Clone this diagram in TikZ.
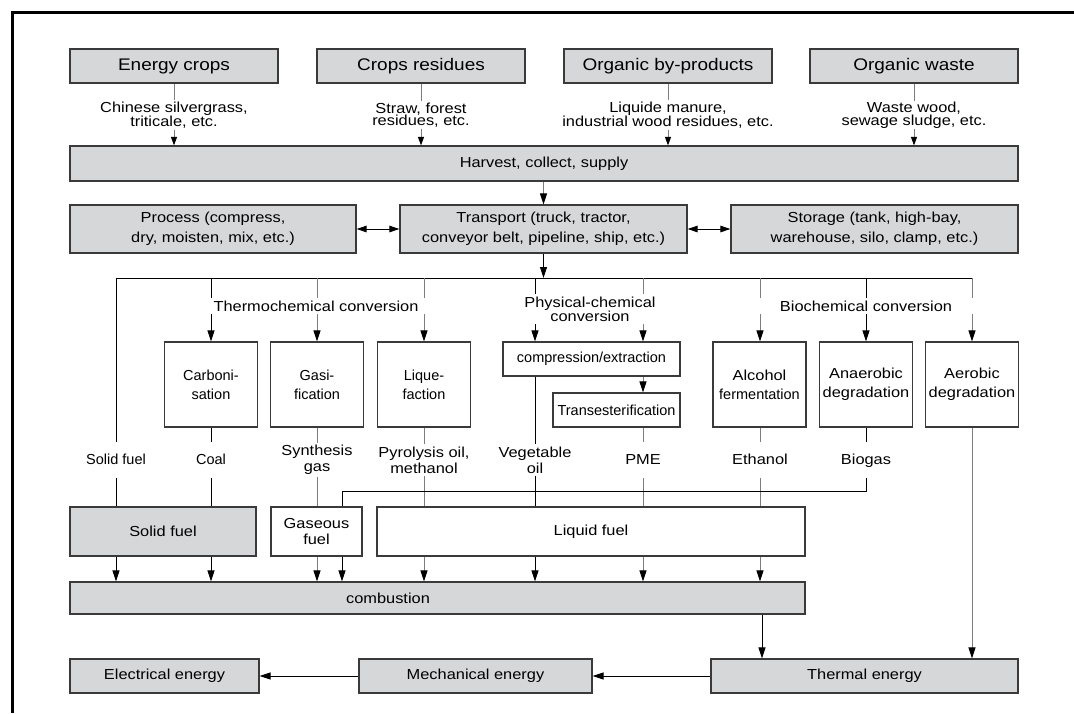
\documentclass[tikz,border=0pt]{standalone}
\usepackage{fontspec}
\setmainfont{Liberation Sans}[FakeStretch=1.13]
\newfontfamily\condfont{Liberation Sans}[FakeStretch=1.0]
\usetikzlibrary{arrows.meta}
\definecolor{boxgray}{RGB}{214,215,217}
\definecolor{boxline}{RGB}{58,58,58}
\definecolor{linegray}{RGB}{125,125,125}
\begin{document}
\begin{tikzpicture}[x=1pt,y=-1pt,
  gbox/.style={draw=boxline,line width=1.2pt,fill=boxgray,inner sep=0pt,align=center,font=\fontsize{14.5}{20}\selectfont},
  wbox/.style={gbox,fill=white},
  titlebox/.style={gbox,font=\fontsize{16.8}{20}\selectfont},
  condbox/.style={font=\condfont\fontsize{14.5}{19}\selectfont},
  lab/.style={inner sep=2pt,align=center,font=\fontsize{14.5}{16}\selectfont},
  slab/.style={inner xsep=2pt,inner ysep=1pt,align=center,font=\fontsize{14.5}{12.5}\selectfont},
  one/.style={inner xsep=2pt,inner ysep=11pt,text height=11pt,text depth=3pt,font=\fontsize{14.5}{16}\selectfont},
  onec/.style={one,font=\condfont\fontsize{14.5}{16}\selectfont},
  hdr/.style={fill=white,inner xsep=7pt,inner ysep=3pt,align=center,font=\fontsize{14.5}{14}\selectfont},
  con/.style={draw=black,line width=1pt},
  gcon/.style={draw=linegray,line width=1pt},
  tip/.style={-{Triangle[length=11pt,width=7pt,color=black]}},
  stip/.style={-{Triangle[length=8.5pt,width=6pt,color=black]}},
  dtip/.style={{Triangle[length=10pt,width=6.5pt,color=black]}-{Triangle[length=10pt,width=6.5pt,color=black]}}
]
\useasboundingbox (0,0) rectangle (1074,713);
\fill[white] (0,0) rectangle (1074,713);
\draw[line width=3pt] (12,713) -- (12,12) -- (1074,12);

% sources
\node[titlebox,minimum width=208pt,minimum height=34pt] (ec) at (174,66) {Energy crops};
\node[titlebox,minimum width=208pt,minimum height=34pt] (cr) at (421,66) {Crops residues};
\node[titlebox,minimum width=208pt,minimum height=34pt] (ob) at (668,66) {Organic by-products};
\node[titlebox,minimum width=208pt,minimum height=34pt] (ow) at (914,66) {Organic waste};
\node[slab] (ecl) at (174,115) {Chinese silvergrass,\\triticale, etc.};
\node[slab] (crl) at (421,115) {Straw, forest\\residues, etc.};
\node[slab] (obl) at (668,115) {Liquide manure,\\industrial wood residues, etc.};
\node[slab] (owl) at (914,115) {Waste wood,\\sewage sludge, etc.};

\node[gbox,minimum width=948pt,minimum height=35pt] (hv) at (544,163.5) {Harvest, collect, supply};

\node[gbox,minimum width=286pt,minimum height=48pt] (pr) at (213,229) {Process (compress,\\dry, moisten, mix, etc.)};
\node[gbox,minimum width=287pt,minimum height=48pt] (tr) at (543.5,229) {Transport (truck, tractor,\\conveyor belt, pipeline, ship, etc.)};
\node[gbox,minimum width=287pt,minimum height=48pt] (st) at (874.5,229) {Storage (tank, high-bay,\\warehouse, silo, clamp, etc.)};

\coordinate (busL) at (116,278);
\coordinate (busR) at (972,278);

% conversion boxes
\node[wbox,condbox,minimum width=93pt,minimum height=85pt] (ca) at (211,384.5) {Carboni-\\sation};
\node[wbox,condbox,minimum width=93pt,minimum height=85pt] (ga) at (317,384.5) {Gasi-\\fication};
\node[wbox,condbox,minimum width=93pt,minimum height=85pt] (lq) at (424,384.5) {Lique-\\faction};
\node[wbox,condbox,minimum width=177pt,minimum height=34pt] (co) at (591.5,359) {compression/extraction};
\node[wbox,condbox,minimum width=127pt,minimum height=34pt] (te) at (616.5,410) {Transesterification};
\node[wbox,font=\fontsize{14.5}{19}\selectfont,minimum width=93pt,minimum height=85pt] (al) at (759.5,384.5) {Alcohol\\{\condfont fermentation}};
\node[wbox,font=\fontsize{14.5}{19}\selectfont,minimum width=93pt,minimum height=85pt] (an) at (866,384.5) {Anaerobic\\degradation};
\node[wbox,font=\fontsize{14.5}{19}\selectfont,minimum width=93pt,minimum height=85pt] (ae) at (972,384.5) {Aerobic\\degradation};

% product labels
\node[onec] (sfl) at (116,460) {Solid fuel};
\node[onec] (coal) at (211,460) {Coal};
\node[lab] (syn) at (317,460) {Synthesis\\gas};
\node[lab] (pyr) at (424,460) {Pyrolysis oil,\\methanol};
\node[lab] (veg) at (535,460) {Vegetable\\oil};
\node[one] (pme) at (643,460) {PME};
\node[one] (eth) at (760,460) {Ethanol};
\node[one] (bio) at (866,460) {Biogas};

% fuel boxes
\node[gbox,minimum width=186pt,minimum height=49pt] (sf) at (163,531.5) {Solid fuel};
\node[wbox,font=\fontsize{14.5}{16}\selectfont,minimum width=91pt,minimum height=49pt] (gf) at (316.5,531.5) {Gaseous\\fuel};
\node[wbox,minimum width=428pt,minimum height=49pt] (lf) at (591,531.5) {Liquid fuel};
\node[gbox,minimum width=735pt,minimum height=32pt] (cb) at (437.5,598) {};
\node[lab] (cbt) at (388,598) {combustion};

\node[gbox,minimum width=307pt,minimum height=34pt] (th) at (864.5,676) {Thermal energy};
\node[gbox,minimum width=233pt,minimum height=34pt] (me) at (475.5,676) {Mechanical energy};
\node[gbox,minimum width=189pt,minimum height=34pt] (el) at (164.5,676) {Electrical energy};

% connectors top
\draw[gcon] (ec.south) -- (ecl.north);
\draw[gcon,stip] (ecl.south) -- (ecl.south |- hv.north);
\draw[gcon] (cr.south) -- (crl.north);
\draw[gcon,stip] (crl.south) -- (crl.south |- hv.north);
\draw[gcon] (ob.south) -- (obl.north);
\draw[gcon,stip] (obl.south) -- (obl.south |- hv.north);
\draw[gcon] (ow.south) -- (owl.north);
\draw[gcon,stip] (owl.south) -- (owl.south |- hv.north);
\draw[gcon,tip] (hv.south -| tr.north) -- (tr.north);
\draw[con,dtip] (pr.east) -- (tr.west);
\draw[con,dtip] (tr.east) -- (st.west);
\draw[con,tip] (tr.south) -- (tr.south |- busL);

% bus and drops
\draw[con] (busL) -- (busR);
\draw[con] (busL) -- (sfl.north);
\draw[con] (sfl.south) -- (sfl.south |- sf.north);
\draw[con,tip] (ca.north |- busL) -- (ca.north);
\draw[gcon,tip] (ga.north |- busL) -- (ga.north);
\draw[gcon,tip] (lq.north |- busL) -- (lq.north);
\draw[con,tip] (veg |- busL) -- (veg |- co.north);
\draw[gcon,tip] (pme |- busL) -- (pme |- co.north);
\draw[gcon,tip] (eth |- busL) -- (eth |- al.north);
\draw[con,tip] (an.north |- busL) -- (an.north);
\draw[gcon,tip] (busR) -- (ae.north);
\draw[gcon,tip] (pme |- co.south) -- (pme |- te.north);

% products
\draw[con] (ca.south) -- (coal.north);
\draw[con] (coal.south) -- (coal.south |- sf.north);
\draw[gcon] (ga.south) -- (syn.north);
\draw[gcon] (syn.south) -- (syn.south |- gf.north);
\draw[gcon] (lq.south) -- (pyr.north);
\draw[gcon] (pyr.south) -- (pyr.south |- lf.north);
\draw[con] (veg |- co.south) -- (veg.north);
\draw[con] (veg.south) -- (veg.south |- lf.north);
\draw[gcon] (pme |- te.south) -- (pme.north);
\draw[gcon] (pme.south) -- (pme.south |- lf.north);
\draw[gcon] (eth |- al.south) -- (eth.north);
\draw[gcon] (eth.south) -- (eth.south |- lf.north);
\draw[con] (an.south) -- (bio.north);
\coordinate (bt) at (342,491);
\draw[con] (bio.south) |- (bt) -- (bt |- gf.north);
\draw[gcon,tip] (ae.south) -- (ae.south |- th.north);

% into combustion
\draw[con,tip] (sfl |- sf.south) -- (sfl |- cb.north);
\draw[con,tip] (coal |- sf.south) -- (coal |- cb.north);
\draw[gcon,tip] (syn |- gf.south) -- (syn |- cb.north);
\draw[con,tip] (bt |- gf.south) -- (bt |- cb.north);
\draw[gcon,tip] (pyr |- lf.south) -- (pyr |- cb.north);
\draw[con,tip] (veg |- lf.south) -- (veg |- cb.north);
\draw[gcon,tip] (pme |- lf.south) -- (pme |- cb.north);
\draw[gcon,tip] (eth |- lf.south) -- (eth |- cb.north);
\draw[con,tip] ([xshift=2pt]eth |- cb.south) -- ([xshift=2pt]eth |- th.north);
\draw[con,tip] (th.west) -- (me.east);
\draw[con,tip] (me.west) -- (el.east);

% group headers
\node[hdr] (thc) at (316,306) {Thermochemical conversion};
\node[hdr,inner xsep=3pt] (phc) at (590,309) {Physical-chemical\\conversion};
\node[hdr,inner xsep=22pt] (bic) at (866,306) {Biochemical conversion};
\end{tikzpicture}
\end{document}
